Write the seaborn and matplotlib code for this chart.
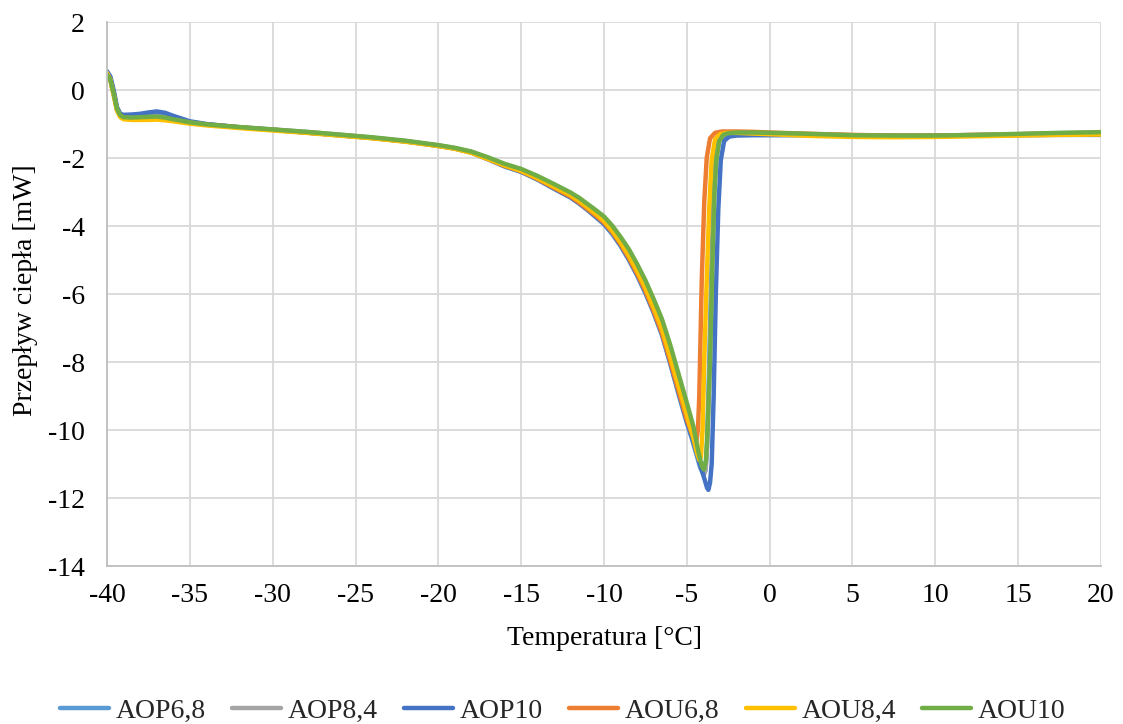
import matplotlib
matplotlib.use("Agg")
import matplotlib.pyplot as plt
import pandas as pd
import seaborn as sns

# Sample names and their colours
series_names = ["AOP6,8", "AOP8,4", "AOP10", "AOU6,8", "AOU8,4", "AOU10"]
series_colors = ["#5B9BD5", "#A5A5A5", "#4472C4", "#ED7D31", "#FFC000", "#70AD47"]

# Temperature grid for the cooling part (before the peak) and the flat part after it [°C]
t_cool = [-40, -39.8, -39.6, -39.4, -39.2, -39, -38.5, -38, -37.5, -37, -36.5, -36,
          -35, -34, -32, -30, -28, -26, -24, -22, -20, -19, -18, -17, -16, -15,
          -14, -13, -12, -11.5, -11, -10.5, -10, -9.5, -9, -8.5, -8, -7.5, -7, -6.5,
          -6, -5.5, -5]
t_warm = [-2, -1, 0, 2.5, 5, 7.5, 10, 12.5, 15, 17.5, 20]

# Heat flow [mW] – AOP6,8
aop68_cool = [0.5, 0.35, -0.05, -0.55, -0.74, -0.78, -0.78, -0.76, -0.73, -0.71, -0.74, -0.81,
              -0.94, -1.01, -1.1, -1.17, -1.25, -1.33, -1.41, -1.51, -1.64, -1.72, -1.84, -2.04,
              -2.25, -2.41, -2.64, -2.91, -3.17, -3.34, -3.53, -3.74, -3.95, -4.24, -4.59, -5.0,
              -5.46, -5.98, -6.56, -7.22, -8.06, -8.95, -9.8]
aop68_peak_t = [-4.7, -4.4, -4.2, -4.0, -3.88, -3.78, -3.65, -3.5, -3.38, -3.25, -3.05, -2.7]
aop68_peak_mw = [-10.25, -10.75, -11.1, -11.3, -11.2, -10.5, -8.0, -5.0, -3.0, -2.0, -1.45, -1.33]
aop68_warm = [-1.31, -1.31, -1.31, -1.32, -1.34, -1.35, -1.35, -1.34, -1.32, -1.31, -1.3]

# Heat flow [mW] – AOP8,4
aop84_cool = [0.5, 0.32, -0.1, -0.56, -0.76, -0.8, -0.81, -0.8, -0.79, -0.78, -0.8, -0.86,
              -0.95, -1.01, -1.09, -1.16, -1.23, -1.31, -1.4, -1.5, -1.63, -1.71, -1.82, -2.0,
              -2.19, -2.34, -2.56, -2.8, -3.05, -3.21, -3.39, -3.57, -3.77, -4.04, -4.37, -4.74,
              -5.18, -5.67, -6.22, -6.83, -7.62, -8.48, -9.35]
aop84_peak_t = [-4.6, -4.3, -4.1, -3.95, -3.85, -3.75, -3.62, -3.47, -3.35, -3.23, -3.05, -2.8, -2.5]
aop84_peak_mw = [-10.05, -10.8, -11.15, -11.3, -11.1, -10.2, -8.0, -5.0, -3.0, -2.06, -1.5, -1.32, -1.28]
aop84_warm = [-1.26, -1.26, -1.27, -1.3, -1.33, -1.34, -1.34, -1.32, -1.3, -1.27, -1.25]

# Heat flow [mW] – AOP10
aop10_cool = [0.55, 0.4, 0.0, -0.5, -0.7, -0.73, -0.72, -0.7, -0.66, -0.63, -0.67, -0.76,
              -0.92, -1.0, -1.1, -1.17, -1.25, -1.33, -1.41, -1.51, -1.64, -1.72, -1.84, -2.03,
              -2.24, -2.4, -2.63, -2.9, -3.16, -3.33, -3.52, -3.72, -3.93, -4.21, -4.56, -4.97,
              -5.43, -5.95, -6.53, -7.18, -8.02, -8.9, -9.75]
aop10_peak_t = [-4.7, -4.4, -4.1, -3.9, -3.78, -3.7, -3.6, -3.5, -3.38, -3.25, -3.1, -2.95, -2.75, -2.45]
aop10_peak_mw = [-10.2, -10.7, -11.18, -11.5, -11.7, -11.76, -11.55, -11.0, -9.0, -6.0, -3.5, -2.06, -1.5, -1.37]
aop10_warm = [-1.34, -1.33, -1.33, -1.33, -1.34, -1.35, -1.35, -1.34, -1.33, -1.32, -1.32]

# Heat flow [mW] – AOU6,8
aou68_cool = [0.48, 0.3, -0.12, -0.58, -0.77, -0.82, -0.84, -0.83, -0.82, -0.81, -0.84, -0.88,
              -0.96, -1.02, -1.1, -1.17, -1.25, -1.33, -1.41, -1.51, -1.64, -1.72, -1.84, -2.03,
              -2.23, -2.39, -2.62, -2.88, -3.14, -3.31, -3.5, -3.69, -3.9, -4.18, -4.53, -4.94,
              -5.4, -5.91, -6.5, -7.15, -7.98, -8.85, -9.7]
aou68_peak_t = [-4.7, -4.5, -4.42, -4.33, -4.25, -4.1, -3.95, -3.8, -3.6, -3.3, -2.9]
aou68_peak_mw = [-10.1, -10.28, -10.32, -10.0, -9.0, -5.6, -3.3, -2.0, -1.42, -1.26, -1.22]
aou68_warm = [-1.22, -1.23, -1.25, -1.29, -1.32, -1.34, -1.34, -1.32, -1.3, -1.28, -1.27]

# Heat flow [mW] – AOU8,4
aou84_cool = [0.5, 0.3, -0.15, -0.6, -0.8, -0.86, -0.88, -0.88, -0.88, -0.87, -0.89, -0.92,
              -0.99, -1.04, -1.12, -1.19, -1.26, -1.34, -1.42, -1.52, -1.65, -1.73, -1.85, -2.03,
              -2.22, -2.38, -2.6, -2.85, -3.1, -3.26, -3.45, -3.64, -3.85, -4.14, -4.48, -4.87,
              -5.32, -5.82, -6.4, -7.03, -7.85, -8.7, -9.55]
aou84_peak_t = [-4.6, -4.4, -4.25, -4.15, -4.05, -3.95, -3.8, -3.65, -3.5, -3.3, -3.0, -2.6]
aou84_peak_mw = [-10.25, -10.65, -10.88, -10.8, -10.0, -8.0, -5.6, -3.5, -2.06, -1.45, -1.3, -1.26]
aou84_warm = [-1.26, -1.28, -1.3, -1.35, -1.38, -1.39, -1.38, -1.36, -1.34, -1.32, -1.31]

# Heat flow [mW] – AOU10
aou10_cool = [0.45, 0.3, -0.1, -0.55, -0.74, -0.8, -0.81, -0.8, -0.79, -0.78, -0.81, -0.86,
              -0.95, -1.01, -1.09, -1.16, -1.23, -1.31, -1.39, -1.49, -1.62, -1.7, -1.81, -1.98,
              -2.17, -2.32, -2.53, -2.77, -3.02, -3.17, -3.35, -3.53, -3.72, -3.99, -4.32, -4.68,
              -5.12, -5.6, -6.15, -6.74, -7.5, -8.35, -9.2]
aou10_peak_t = [-4.6, -4.3, -4.1, -3.97, -3.85, -3.75, -3.6, -3.45, -3.33, -3.22, -3.05, -2.8, -2.5]
aou10_peak_mw = [-9.9, -10.65, -11.05, -11.16, -10.9, -10.0, -8.0, -5.0, -3.0, -2.06, -1.5, -1.32, -1.27]
aou10_warm = [-1.25, -1.25, -1.26, -1.29, -1.33, -1.34, -1.34, -1.32, -1.29, -1.26, -1.24]

curves = [
    (aop68_cool, aop68_peak_t, aop68_peak_mw, aop68_warm),
    (aop84_cool, aop84_peak_t, aop84_peak_mw, aop84_warm),
    (aop10_cool, aop10_peak_t, aop10_peak_mw, aop10_warm),
    (aou68_cool, aou68_peak_t, aou68_peak_mw, aou68_warm),
    (aou84_cool, aou84_peak_t, aou84_peak_mw, aou84_warm),
    (aou10_cool, aou10_peak_t, aou10_peak_mw, aou10_warm),
]

frames = []
for name, (cool, pk_t, pk_mw, warm) in zip(series_names, curves):
    temps = t_cool + pk_t + t_warm
    flows = cool + pk_mw + warm
    frames.append(pd.DataFrame({"Temperatura": temps, "Przeplyw": flows, "Probka": name}))
df = pd.concat(frames, ignore_index=True)

sns.set_theme(style="whitegrid")
plt.rcParams["font.family"] = ["Liberation Serif", "DejaVu Serif"]
plt.rcParams["axes.unicode_minus"] = False

fig, ax = plt.subplots(figsize=(11.23, 7.24), dpi=100)
fig.subplots_adjust(left=0.0953, right=0.9804, top=0.9696, bottom=0.2182)

sns.lineplot(data=df, x="Temperatura", y="Przeplyw", hue="Probka",
             hue_order=series_names, palette=series_colors,
             estimator=None, sort=False, linewidth=3.2, ax=ax, legend=True)
for line in ax.get_lines():
    line.set_solid_joinstyle("round")

ax.set_xlim(-40, 20)
ax.set_ylim(-14, 2)
ax.set_xticks(range(-40, 21, 5))
ax.set_yticks(range(-14, 3, 2))
ax.tick_params(axis="both", length=0, labelsize=20, colors="black")
ax.tick_params(axis="x", pad=12)
ax.tick_params(axis="y", pad=16)

ax.grid(True, color="#d9d9d9", linewidth=1.3)
ax.set_facecolor("white")
for side in ["top", "right"]:
    ax.spines[side].set_visible(False)
for side in ["left", "bottom"]:
    ax.spines[side].set_color("#bfbfbf")
    ax.spines[side].set_linewidth(1.3)

ax.set_xlabel("Temperatura [°C]", fontsize=20, color="black")
ax.set_ylabel("Przepływ ciepła [mW]", fontsize=20, color="black")
ax.xaxis.label.set_va("center")
ax.yaxis.label.set_va("center")
ax.xaxis.set_label_coords(0.501, -0.1324)
ax.yaxis.set_label_coords(-0.0825, 0.507)

handles, labels = ax.get_legend_handles_labels()
ax.get_legend().remove()
leg = fig.legend(handles, labels, loc="center", bbox_to_anchor=(563 / 1123, 1 - 711 / 724),
                 ncol=6, frameon=False, fontsize=20, handlelength=1.75,
                 handletextpad=0.25, columnspacing=0.95)
for line in leg.get_lines():
    line.set_linewidth(3.2)

fig.savefig("out.png", dpi=100, facecolor="white")
